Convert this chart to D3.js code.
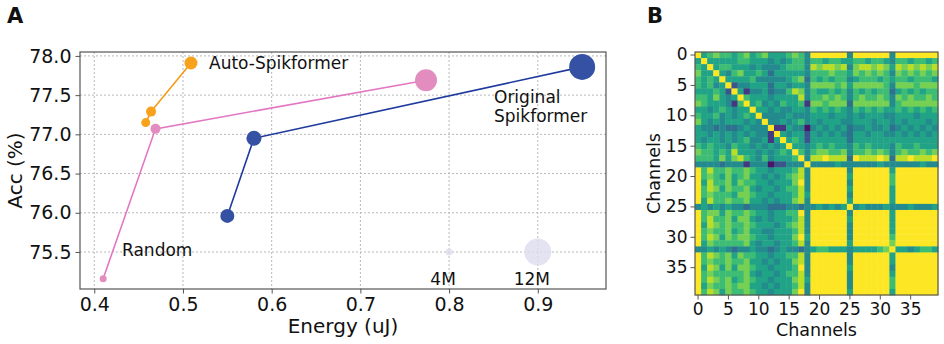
<!DOCTYPE html>
<html>
<head>
<meta charset="utf-8">
<script src="https://cdn.jsdelivr.net/npm/d3@7"></script>
<style>
  body { margin: 0; background: #fff; }
  svg { display: block; font-family: "DejaVu Sans", sans-serif; }
</style>
</head>
<body>
<div id="chart"></div>
<script>
// Panel A data: energy (uJ), accuracy (%), params (M)
const autoEnergy = [0.458, 0.464, 0.509];
const autoAcc = [77.15, 77.29, 77.91];
const autoParams = [4.8, 5.2, 6.4];

const randEnergy = [0.410, 0.469, 0.774];
const randAcc = [75.16, 77.07, 77.69];
const randParams = [4.0, 5.2, 10.0];

const origEnergy = [0.550, 0.580, 0.950];
const origAcc = [75.96, 76.95, 77.86];
const origParams = [6.8, 7.2, 11.6];

const sizeParams = [4, 12];
const sizeLabels = ["4M", "12M"];
const sizeEnergy = [0.8, 0.9];
const sizeAcc = [75.5, 75.5];

const energyTicks = [0.4, 0.5, 0.6, 0.7, 0.8, 0.9];
const accTicks = [75.5, 76.0, 76.5, 77.0, 77.5, 78.0];

// Panel B: channel similarity, lower triangle, levels 0..9 (viridis), spaces only separate groups
const simRows = [
  "9",
  "59",
  "659",
  "7559",
  "65659",
  "656459",
  "5556529",
  "66575459",
  "765554169",
  "5545654559",
  "65564545659",
  "754545554549",
  "5443433454449",
  "55454545454419",
  "545545456445159",
  "6565546554545459",
  "76656585554545659",
  "666575786546455569",
  "4444344414440224449",
  "9 68667667655455568 4 9",
  "9 67657567554545678 4 99",
  "9 58667576655455579 4 999",
  "9 68757667545545668 4 9999",
  "9 67666577655455568 5 99999",
  "9 58667667554545578 4 999999",
  "4 54545443444333443 4 454545 9",
  "9 67757667655455669 4 999999 4 9",
  "9 68667577545455568 4 999999 5 99",
  "9 58767667655545678 4 999999 4 999",
  "9 67667567554455568 4 999999 4 9999",
  "9 68757677655455579 5 999999 4 99999",
  "9 57666667545545568 4 999999 5 999999",
  "4 45454344544345443 4 5665554555567 9",
  "9 68767576655455668 4 999999 4 999999 5 9",
  "9 67667667554545578 4 999999 4 999999 5 99",
  "9 58757577655455569 4 999999 5 999999 4 999",
  "9 67666667545545668 4 999999 4 999999 5 9999",
  "9 68767567655455578 5 999999 4 999999 6 99999",
  "9 57667677554545568 4 999999 4 999999 6 999999",
  "9 68757667655455579 4 999999 5 999999 5 9999999"
];
const channelTicks = [0, 5, 10, 15, 20, 25, 30, 35];

// Colours
const orange = "#f8a21c", orangeLine = "#f39a10";
const pink = "#e28cbf", pinkLine = "#e377c2";
const blue = "#3451a4", blueLine = "#1f3a9e";
const sizeColor = "#dcdcef";
const gridColor = "#b8b8b8";
const spineColor = "#555";

const W = 944, H = 344;
const svg = d3.select("#chart").append("svg")
    .attr("width", W)
    .attr("height", H);

// ---------- Panel A ----------
const A = { left: 80, right: 606, top: 52, bottom: 289 };
const x = d3.scaleLinear().domain([0.3839, 0.9769]).range([A.left, A.right]);
const y = d3.scaleLinear().domain([75.028, 78.05]).range([A.bottom, A.top]);
const r = d3.scaleLinear().domain([4, 12]).range([3.5, 13.5]);

const gA = svg.append("g");

// grid
gA.append("g").selectAll("line").data(energyTicks).join("line")
    .attr("x1", d => x(d)).attr("x2", d => x(d))
    .attr("y1", A.top).attr("y2", A.bottom)
    .attr("stroke", gridColor).attr("stroke-dasharray", "2,2");
gA.append("g").selectAll("line").data(accTicks).join("line")
    .attr("y1", d => y(d)).attr("y2", d => y(d))
    .attr("x1", A.left).attr("x2", A.right)
    .attr("stroke", gridColor).attr("stroke-dasharray", "2,2");

// axes
const xAxis = gA.append("g")
    .attr("transform", `translate(0,${A.bottom})`)
    .call(d3.axisBottom(x).tickValues(energyTicks).tickFormat(d3.format(".1f")).tickSize(4.5).tickPadding(4));
const yAxis = gA.append("g")
    .attr("transform", `translate(${A.left},0)`)
    .call(d3.axisLeft(y).tickValues(accTicks).tickFormat(d3.format(".1f")).tickSize(4.5).tickPadding(4));
[xAxis, yAxis].forEach(ax => {
    ax.select(".domain").remove();
    ax.selectAll("text").attr("font-size", 19).attr("fill", "#111").attr("font-family", "DejaVu Sans");
    ax.selectAll(".tick line").attr("stroke", spineColor);
});

// frame
gA.append("rect")
    .attr("x", A.left).attr("y", A.top)
    .attr("width", A.right - A.left).attr("height", A.bottom - A.top)
    .attr("fill", "none").attr("stroke", spineColor).attr("stroke-width", 1.2);

// size legend
gA.append("g").selectAll("circle").data(sizeParams).join("circle")
    .attr("cx", (d, i) => x(sizeEnergy[i]))
    .attr("cy", (d, i) => y(sizeAcc[i]))
    .attr("r", d => r(d))
    .attr("fill", sizeColor).attr("opacity", 0.8);
gA.append("g").selectAll("text").data(sizeLabels).join("text")
    .attr("x", (d, i) => x(sizeEnergy[i]) - 6)
    .attr("y", 285)
    .attr("text-anchor", "middle")
    .attr("font-size", 17)
    .attr("fill", "#111")
    .text(d => d);

const line = d3.line().x(d => x(d[0])).y(d => y(d[1]));

function series(energy, acc, params, fill, stroke) {
    const pts = energy.map((e, i) => [e, acc[i], params[i]]);
    const g = gA.append("g");
    g.append("path").datum(pts)
        .attr("d", line)
        .attr("fill", "none")
        .attr("stroke", stroke)
        .attr("stroke-width", 1.6);
    g.selectAll("circle").data(pts).join("circle")
        .attr("cx", d => x(d[0]))
        .attr("cy", d => y(d[1]))
        .attr("r", d => r(d[2]))
        .attr("fill", fill);
}
series(autoEnergy, autoAcc, autoParams, orange, orangeLine);
series(randEnergy, randAcc, randParams, pink, pinkLine);
series(origEnergy, origAcc, origParams, blue, blueLine);

// annotations
gA.append("text").attr("x", 209).attr("y", 69)
    .attr("font-size", 17).attr("fill", "#111").text("Auto-Spikformer");
gA.append("text").attr("x", 494).attr("y", 103)
    .attr("font-size", 17).attr("fill", "#111").text("Original");
gA.append("text").attr("x", 494).attr("y", 122)
    .attr("font-size", 17).attr("fill", "#111").text("Spikformer");
gA.append("text").attr("x", 122).attr("y", 256)
    .attr("font-size", 17).attr("fill", "#111").text("Random");

// axis labels
gA.append("text")
    .attr("x", (A.left + A.right) / 2).attr("y", 333)
    .attr("text-anchor", "middle").attr("font-size", 20).attr("fill", "#111")
    .text("Energy (uJ)");
gA.append("text")
    .attr("transform", `translate(22,${(A.top + A.bottom) / 2}) rotate(-90)`)
    .attr("text-anchor", "middle").attr("font-size", 20).attr("fill", "#111")
    .text("Acc (%)");

svg.append("text").attr("x", 7).attr("y", 23)
    .attr("font-size", 21).attr("font-weight", "bold").attr("fill", "#111").text("A");

// ---------- Panel B ----------
const B = { left: 695, right: 938, top: 52, bottom: 295 };
const n = simRows.length;
const lower = simRows.map(s => s.replace(/ /g, "").split("").map(Number));
const cells = [];
for (let i = 0; i < n; i++) {
    for (let j = 0; j < n; j++) {
        const v = j <= i ? lower[i][j] : lower[j][i];
        cells.push({ i, j, v });
    }
}
const idx = d3.range(n);
const bx = d3.scaleBand().domain(idx).range([B.left, B.right]);
const by = d3.scaleBand().domain(idx).range([B.top, B.bottom]);
const color = d3.scaleSequential(d3.interpolateViridis).domain([-0.5, 9]);

const gB = svg.append("g");
gB.append("g").selectAll("rect").data(cells).join("rect")
    .attr("x", d => bx(d.j))
    .attr("y", d => by(d.i))
    .attr("width", bx.bandwidth() + 0.4)
    .attr("height", by.bandwidth() + 0.4)
    .attr("fill", d => color(d.v));

gB.append("rect")
    .attr("x", B.left).attr("y", B.top)
    .attr("width", B.right - B.left).attr("height", B.bottom - B.top)
    .attr("fill", "none").attr("stroke", spineColor).attr("stroke-width", 1.2);

const bxAxis = gB.append("g")
    .attr("transform", `translate(0,${B.bottom})`)
    .call(d3.axisBottom(bx).tickValues(channelTicks).tickSize(4.5).tickPadding(3));
const byAxis = gB.append("g")
    .attr("transform", `translate(${B.left},0)`)
    .call(d3.axisLeft(by).tickValues(channelTicks).tickSize(4.5).tickPadding(3));
[bxAxis, byAxis].forEach(ax => {
    ax.select(".domain").remove();
    ax.selectAll("text").attr("font-size", 17).attr("fill", "#111").attr("font-family", "DejaVu Sans");
    ax.selectAll(".tick line").attr("stroke", spineColor);
});

gB.append("text")
    .attr("x", (B.left + B.right) / 2).attr("y", 336)
    .attr("text-anchor", "middle").attr("font-size", 17.5).attr("fill", "#111")
    .text("Channels");
gB.append("text")
    .attr("transform", `translate(660,${(B.top + B.bottom) / 2}) rotate(-90)`)
    .attr("text-anchor", "middle").attr("font-size", 17.5).attr("fill", "#111")
    .text("Channels");

svg.append("text").attr("x", 647).attr("y", 23)
    .attr("font-size", 21).attr("font-weight", "bold").attr("fill", "#111").text("B");
</script>
</body>
</html>
